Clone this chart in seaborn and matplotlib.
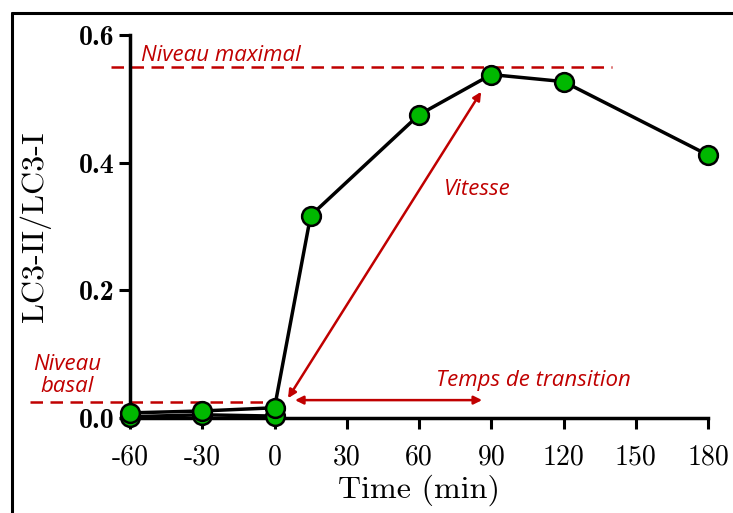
import pandas as pd
import seaborn as sns
import matplotlib.pyplot as plt
from matplotlib.lines import Line2D

# LC3-II/LC3-I ratio over time
time_main = [-60, -30, 0, 15, 60, 90, 120, 180]
ratio_main = [0.008, 0.011, 0.016, 0.317, 0.475, 0.538, 0.527, 0.412]
time_ctrl = [-60, -30, 0]
ratio_ctrl = [0.002, 0.005, 0.003]

xticks = [-60, -30, 0, 30, 60, 90, 120, 150, 180]
yticks = [0.0, 0.2, 0.4, 0.6]

max_level = 0.55
basal_level = 0.025

main = pd.DataFrame({"time": time_main, "ratio": ratio_main})
ctrl = pd.DataFrame({"time": time_ctrl, "ratio": ratio_ctrl})

sns.set_style("ticks")
plt.rcParams["font.family"] = ["cmr10", "DejaVu Serif"]
plt.rcParams["text.color"] = "black"
plt.rcParams["axes.labelcolor"] = "black"
plt.rcParams["axes.edgecolor"] = "black"
plt.rcParams["xtick.color"] = "black"
plt.rcParams["ytick.color"] = "black"

red = "#C00000"
green = "#00B800"

fig = plt.figure(figsize=(7.33, 5.13), dpi=100)
ax = fig.add_axes([0.1774, 0.1852, 0.7885, 0.7466])

for df in (ctrl, main):
    sns.lineplot(data=df, x="time", y="ratio", color="black", linewidth=2.5,
                 marker="o", markersize=13.5, markerfacecolor=green,
                 markeredgecolor="black", markeredgewidth=1.8, ax=ax,
                 clip_on=False, zorder=3)

ax.set_xlim(-60, 180)
ax.set_ylim(0, 0.6)
ax.set_xticks(xticks)
ax.set_xticklabels([str(t) for t in xticks], fontsize=20)
ax.set_yticks(yticks)
ax.set_yticklabels([f"{v:.1f}" for v in yticks], fontsize=20, family="cmb10")
ax.tick_params(axis="x", width=2.2, length=8, pad=11)
ax.tick_params(axis="y", width=2.2, length=8, pad=3)
ax.set_xlabel("Time (min)", fontsize=23, labelpad=3)
ax.set_ylabel("LC3-II/LC3-I", fontsize=23, labelpad=20)

for s in ("top", "right"):
    ax.spines[s].set_visible(False)
for s in ("left", "bottom"):
    ax.spines[s].set_linewidth(2.5)

# annotations
afont = dict(color=red, fontsize=16, style="italic", family="Open Sans")
ax.plot([-68, 140], [max_level, max_level], color=red, lw=1.8,
        dashes=(5, 3), clip_on=False, zorder=2)
ax.plot([-101.5, 5.6], [basal_level, basal_level], color=red, lw=1.8,
        dashes=(5, 3), clip_on=False, zorder=2)
ax.text(-55.5, 0.560, "Niveau maximal", **afont)
ax.text(-86, 0.033, "Niveau\nbasal", ha="center", va="bottom",
        linespacing=1.05, **afont)
ax.text(70.5, 0.350, "Vitesse", **afont)
ax.text(67, 0.050, "Temps de transition", **afont)
ax.annotate("", xy=(5.6, 0.031), xytext=(85.8, 0.511),
            arrowprops=dict(arrowstyle="<|-|>", color=red, lw=1.8,
                            mutation_scale=12, shrinkA=0, shrinkB=0))
ax.annotate("", xy=(8.5, 0.028), xytext=(86.2, 0.028),
            arrowprops=dict(arrowstyle="<|-|>", color=red, lw=1.8,
                            mutation_scale=12, shrinkA=0, shrinkB=0))

# frame around the picture
fig.add_artist(Line2D([0.0165, 0.0165], [0, 0.975], color="black", lw=2.2,
                      transform=fig.transFigure))
fig.add_artist(Line2D([0.0165, 1], [0.975, 0.975], color="black", lw=2.2,
                      transform=fig.transFigure))

fig.savefig("out.png", dpi=100)
